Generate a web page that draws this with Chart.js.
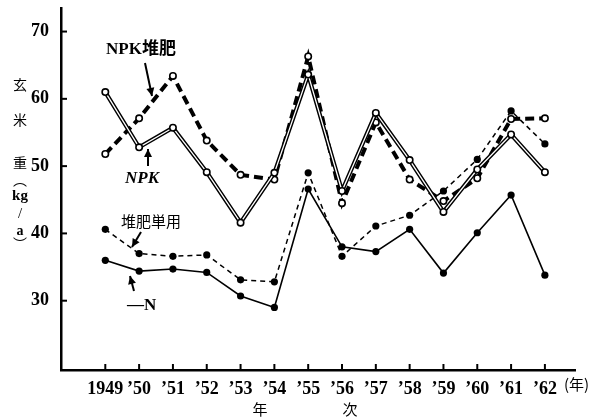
<!DOCTYPE html>
<html><head><meta charset="utf-8">
<script src="https://cdn.jsdelivr.net/npm/chart.js@4"></script>
<style>html,body{margin:0;padding:0;background:#fff}#wrap{width:606px;height:418px;position:relative}</style>
</head><body><div id="wrap"><canvas id="c" width="606" height="418"></canvas></div>
<script>
const years = [1949,1950,1951,1952,1953,1954,1955,1956,1957,1958,1959,1960,1961,1962];
const tickLabels = ['1949','’50','’51','’52','’53','’54','’55','’56','’57','’58','’59','’60','’61','’62'];
const yTicks = [30,40,50,60,70];
const npk         = [61.0,52.8,55.7,49.1,41.6,49.0,63.6,46.3,57.9,50.9,43.2,49.5,54.7,49.1];
const npkCompost  = [51.8,57.1,63.4,53.8,48.7,48.0,66.3,44.5,56.5,48.0,44.8,48.2,57.0,57.1];
const compostOnly = [40.6,37.0,36.6,36.8,33.1,32.8,49.0,36.6,41.1,42.7,46.3,51.0,58.2,53.3];
const minusN      = [36.0,34.4,34.7,34.2,30.7,29.0,46.6,38.0,37.3,40.6,34.1,40.1,45.7,33.8];

const pts = arr => years.map((y,i)=>({x:y,y:arr[i]}));
const SERIF = "'Liberation Serif','Noto Sans CJK JP',serif";
const CJK = "'Noto Sans CJK JP',sans-serif";

function arrow(ctx,x1,y1,x2,y2){
  ctx.save();
  ctx.strokeStyle='#000'; ctx.fillStyle='#000'; ctx.lineWidth=2;
  ctx.beginPath(); ctx.moveTo(x1,y1); ctx.lineTo(x2,y2); ctx.stroke();
  const a=Math.atan2(y2-y1,x2-x1), L=8, W=4;
  ctx.beginPath();
  ctx.moveTo(x2,y2);
  ctx.lineTo(x2-L*Math.cos(a)+W*Math.sin(a), y2-L*Math.sin(a)-W*Math.cos(a));
  ctx.lineTo(x2-L*Math.cos(a)-W*Math.sin(a), y2-L*Math.sin(a)+W*Math.cos(a));
  ctx.closePath(); ctx.fill();
  ctx.restore();
}

const deco = {
  id:'deco',
  afterDraw(chart){
    const ctx=chart.ctx, xs=chart.scales.x, ys=chart.scales.y, ca=chart.chartArea;
    ctx.save();
    ctx.strokeStyle='#000'; ctx.lineWidth=2;
    yTicks.forEach(v=>{const p=ys.getPixelForValue(v); ctx.beginPath(); ctx.moveTo(ca.left,p); ctx.lineTo(ca.left+6,p); ctx.stroke();});
    years.forEach(v=>{const p=xs.getPixelForValue(v); ctx.beginPath(); ctx.moveTo(p,ca.bottom); ctx.lineTo(p,ca.bottom-6); ctx.stroke();});
    ctx.fillStyle='#000'; ctx.textBaseline='middle'; ctx.textAlign='left';
    ctx.font="bold 17px "+SERIF;
    ctx.fillText('NPK堆肥',106,50);
    ctx.font="italic bold 17px "+SERIF;
    ctx.fillText('NPK',125,179);
    ctx.font="15px "+CJK;
    ctx.fillText('堆肥単用',121,221);
    ctx.font="bold 17px "+SERIF;
    ctx.fillText('—N',127,306);
    arrow(ctx,145,63,152,96);
    arrow(ctx,148,166,148,149);
    arrow(ctx,141,232,132,247);
    arrow(ctx,134,291,130,276);
    ctx.textAlign='center';
    ctx.font="14px "+CJK;
    ctx.fillText('玄',20,85);
    ctx.fillText('米',20,120);
    ctx.fillText('重',20,163);
    ctx.fillText('︵',20,180);
    ctx.font="bold 15px "+SERIF;
    ctx.fillText('kg',20,196);
    ctx.font="15px "+SERIF;
    ctx.fillText('/',20,214);
    ctx.font="bold 14px "+SERIF;
    ctx.fillText('a',20,231);
    ctx.font="14px "+CJK;
    ctx.fillText('︶',20,244);
    ctx.font="15px "+CJK;
    ctx.fillText('年',260,409);
    ctx.fillText('次',350,409);
    ctx.textAlign='left';
    ctx.fillText('(年)',564,384);
    ctx.restore();
  }
};

const openPt = {pointRadius:3.2,pointBackgroundColor:'#fff',pointBorderColor:'#000',pointBorderWidth:1.6};
const fillPt = {pointRadius:3.6,pointBackgroundColor:'#000',pointBorderColor:'#000',pointBorderWidth:0};
const noPad = s=>{s.paddingTop=0;s.paddingBottom=0;s.paddingLeft=0;s.paddingRight=0;};

new Chart(document.getElementById('c'),{
  type:'line',
  data:{datasets:[
    {label:'NPK core',data:pts(npk),borderColor:'#fff',borderWidth:1.3,order:1,...openPt},
    {label:'NPK',data:pts(npk),borderColor:'#000',borderWidth:4.2,pointRadius:0,order:2},
    {label:'NPK堆肥',data:pts(npkCompost),borderColor:'#000',borderWidth:4,borderDash:[9,5],order:3,...openPt},
    {label:'堆肥単用',data:pts(compostOnly),borderColor:'#000',borderWidth:1.5,borderDash:[5,4],order:4,...fillPt},
    {label:'−N',data:pts(minusN),borderColor:'#000',borderWidth:1.6,order:5,...fillPt}
  ]},
  options:{
    responsive:false,animation:false,devicePixelRatio:1,
    layout:{padding:{top:8,right:31,left:0,bottom:0}},
    plugins:{legend:{display:false},tooltip:{enabled:false}},
    elements:{line:{tension:0}},
    scales:{
      x:{type:'linear',min:1947.69,max:1962.89,
        afterBuildTicks:s=>{s.ticks=years.map(v=>({value:v}));},
        afterFit:s=>{s.height=48;noPad(s);},
        grid:{display:false},border:{color:'#000',width:2.5},
        ticks:{autoSkip:false,maxRotation:0,padding:1,color:'#000',font:{family:SERIF,size:18,weight:'bold'},
          callback:v=>tickLabels[years.indexOf(v)]}},
      y:{type:'linear',min:19.7,max:73.5,
        afterBuildTicks:s=>{s.ticks=yTicks.map(v=>({value:v}));},
        afterFit:s=>{s.width=61;noPad(s);},
        grid:{display:false},border:{color:'#000',width:2.5},
        ticks:{padding:4,color:'#000',font:{family:SERIF,size:18,weight:'bold'}}}
    }
  },
  plugins:[deco]
});
</script></body></html>
